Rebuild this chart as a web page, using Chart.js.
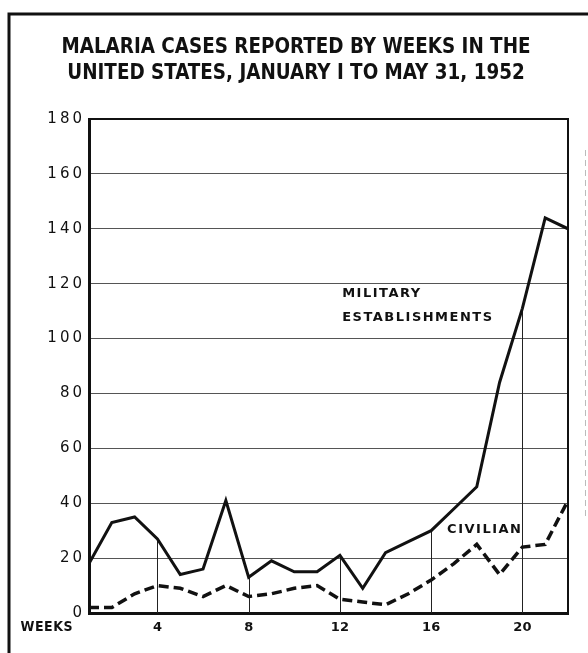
<!DOCTYPE html>
<html><head><meta charset="utf-8">
<script src="https://cdn.jsdelivr.net/npm/chart.js@4"></script>
<style>html,body{margin:0;padding:0;background:#fff}#wrap{width:588px;height:653px;position:relative}</style>
</head><body><div id="wrap"><canvas id="c" width="588" height="653"></canvas></div>
<script>
const weeks = [1,2,3,4,5,6,7,8,9,10,11,12,13,14,15,16,17,18,19,20,21,22];
const military = [18,33,35,27,14,16,41,13,19,15,15,21,9,22,26,30,38,46,84,111,144,140];
const civilian = [2,2,7,10,9,6,10,6,7,9,10,5,4,3,7,12,18,25,14,24,25,41];
const yTicks = [0,20,40,60,80,100,120,140,160,180];
const xTicks = [4,8,12,16,20];
const titleLines = ['MALARIA CASES REPORTED BY WEEKS IN THE','UNITED STATES, JANUARY I TO MAY 31, 1952'];
const xAxisName = 'WEEKS';
const militaryLabel = ['MILITARY','ESTABLISHMENTS'];
const civilianLabel = ['CIVILIAN'];

const INK = '#111';
const COND = '"DejaVu Sans Condensed", Roboto, "DejaVu Sans", sans-serif';

const decor = {
  id: 'decor',
  beforeDraw(chart) {
    const y = chart.scales.y;
    if (!y._patched) {
      const orig = y.drawLabels;
      y.drawLabels = function (ca) { const c = this.ctx; c.save(); c.letterSpacing = '3px'; orig.call(this, ca); c.restore(); };
      y._patched = true;
    }
    const ctx = chart.ctx;
    ctx.save();
    ctx.fillStyle = '#fff';
    ctx.fillRect(0, 0, chart.width, chart.height);
    ctx.restore();
  },
  beforeDatasetsDraw(chart) {
    const {ctx, chartArea, scales: {x, y}} = chart;
    ctx.save();
    ctx.strokeStyle = '#222';
    ctx.lineWidth = 1;
    xTicks.forEach(w => {
      const i = weeks.indexOf(w);
      const px = Math.round(x.getPixelForValue(w)) + 0.5;
      const py = y.getPixelForValue(military[i]);
      ctx.beginPath();
      ctx.moveTo(px, chartArea.bottom);
      ctx.lineTo(px, py);
      ctx.stroke();
    });
    ctx.restore();
  },
  afterDraw(chart) {
    const {ctx, chartArea, scales: {x, y}} = chart;
    ctx.save();
    ctx.strokeStyle = INK;
    ctx.lineWidth = 2;
    ctx.beginPath();
    ctx.moveTo(chartArea.left, chartArea.top);
    ctx.lineTo(chartArea.right, chartArea.top);
    ctx.lineTo(chartArea.right, chartArea.bottom);
    ctx.stroke();
    ctx.lineWidth = 3;
    ctx.beginPath();
    ctx.moveTo(9, chart.height);
    ctx.lineTo(9, 14);
    ctx.lineTo(chart.width, 14);
    ctx.stroke();
    ctx.strokeStyle = '#bbb';
    ctx.lineWidth = 1;
    ctx.setLineDash([6, 4]);
    ctx.beginPath();
    ctx.moveTo(585.5, 150);
    ctx.lineTo(585.5, 520);
    ctx.stroke();
    ctx.setLineDash([]);
    ctx.fillStyle = INK;
    ctx.letterSpacing = '1.5px';
    ctx.font = 'bold 13px "DejaVu Sans"';
    ctx.textAlign = 'left';
    ctx.textBaseline = 'middle';
    ctx.fillText(militaryLabel[0], x.getPixelForValue(12.1), y.getPixelForValue(116.5));
    ctx.fillText(militaryLabel[1], x.getPixelForValue(12.1), y.getPixelForValue(107.8));
    ctx.fillText(civilianLabel[0], x.getPixelForValue(16.7), y.getPixelForValue(30.2));
    ctx.font = 'bold 14px ' + COND;
    ctx.letterSpacing = '0.5px';
    ctx.textAlign = 'right';
    ctx.fillText(xAxisName, chartArea.left - 16, chartArea.bottom + 14);
    ctx.restore();
  }
};

new Chart(document.getElementById('c'), {
  type: 'line',
  data: {
    datasets: [
      { label: 'Military establishments', data: weeks.map((w, i) => ({x: w, y: military[i]})),
        borderColor: INK, borderWidth: 3, pointRadius: 0, tension: 0, fill: false },
      { label: 'Civilian', data: weeks.map((w, i) => ({x: w, y: civilian[i]})),
        borderColor: INK, borderWidth: 3.5, borderDash: [10, 5], pointRadius: 0, tension: 0, fill: false }
    ]
  },
  options: {
    responsive: false,
    devicePixelRatio: 1,
    animation: false,
    layout: { padding: { left: 4, right: 0, top: 0, bottom: 0 } },
    plugins: {
      legend: { display: false },
      tooltip: { enabled: false },
      title: {
        display: true,
        text: titleLines,
        color: INK,
        font: { family: COND, weight: 'bold', size: 20.4, lineHeight: 1.25 },
        padding: { top: 35, bottom: 33 }
      }
    },
    scales: {
      x: {
        type: 'linear', min: 1, max: 22,
        afterBuildTicks: s => { s.ticks = xTicks.map(v => ({value: v})); },
        afterFit: s => { s.height = 40; },
        grid: { display: false, drawTicks: false },
        border: { display: true, color: INK, width: 3 },
        ticks: { color: INK, padding: 7, maxRotation: 0, autoSkip: false,
                 font: { family: '"DejaVu Sans"', weight: 'bold', size: 13 } }
      },
      y: {
        min: 0, max: 180,
        afterBuildTicks: s => { s.ticks = yTicks.map(v => ({value: v})); },
        afterFit: s => { s.width = 85; },
        grid: { color: '#555', lineWidth: 1, drawTicks: false },
        border: { display: true, color: INK, width: 3 },
        ticks: { color: INK, padding: 4,
                 font: { family: '"DejaVu Sans"', size: 15 } }
      },
      yR: {
        type: 'linear', position: 'right', min: 0, max: 180,
        afterFit: s => { s.width = 20; },
        grid: { display: false, drawTicks: false },
        border: { display: false },
        ticks: { display: false }
      }
    }
  },
  plugins: [decor]
});
</script>
</body></html>
